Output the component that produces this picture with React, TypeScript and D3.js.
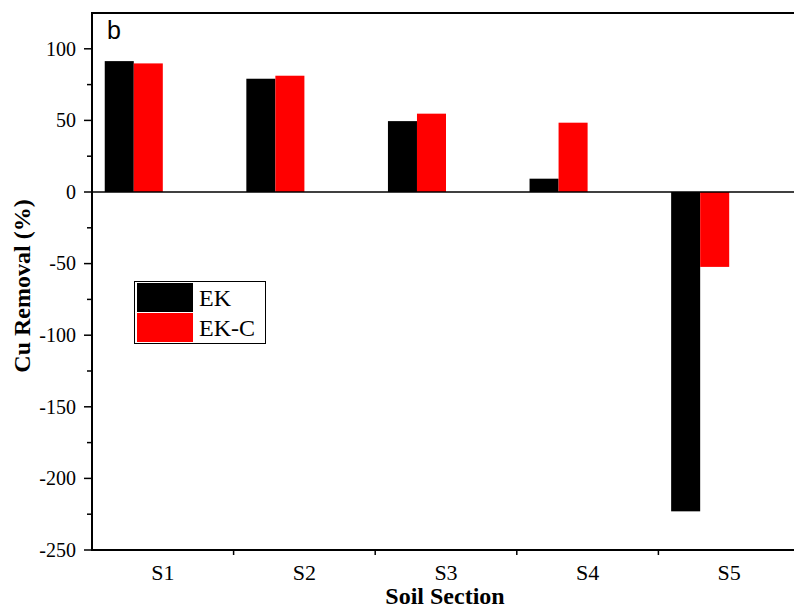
import React from "react";
import * as d3 from "d3";

// Soil sections along the cell
const sections = ["S1", "S2", "S3", "S4", "S5"];
// Series names
const seriesNames = ["EK", "EK-C"];
const seriesColors = ["#000000", "#ff0000"];
// Cu removal (%) per section
const ekValues = [91.4, 79.1, 49.5, 9.3, -223];
const ekcValues = [89.8, 81.2, 54.7, 48.4, -52.3];
const yTicks = [-250, -200, -150, -100, -50, 0, 50, 100];

const W = 794;
const H = 609;
const margin = { left: 92, top: 13, right: -6, bottom: 59 };

export default function App() {
  const x0 = margin.left;
  const x1 = W - margin.right;
  const yTop = margin.top;
  const yBot = H - margin.bottom;

  const x = d3.scaleBand<string>().domain(sections).range([x0, x1]).padding(0);
  const y = d3.scaleLinear().domain([-250, 125]).range([yBot, yTop]);

  // four slots per group (only the first two are used)
  const groupWidth = x.bandwidth() * 0.82;
  const barW = groupWidth / 4;
  const inner = d3
    .scaleBand<string>()
    .domain([...seriesNames, "_a", "_b"])
    .range([-groupWidth / 2, groupWidth / 2])
    .padding(0);

  const minorTicks = d3.range(-225, 125, 50);
  const series = [ekValues, ekcValues];
  const serif = "'Liberation Serif', 'Times New Roman', serif";

  return (
    <svg width={W} height={H} style={{ position: "absolute", left: 0, top: 0 }}>
      <rect x={0} y={0} width={W} height={H} fill="#fff" />
      <defs>
        <clipPath id="plot">
          <rect x={x0} y={yTop} width={x1 - x0} height={yBot - yTop} />
        </clipPath>
      </defs>
      <g clipPath="url(#plot)">
        {series.map((vals, si) =>
          vals.map((v, i) => {
            const cx = (x(sections[i]) as number) + x.bandwidth() / 2;
            const bx = cx + (inner(seriesNames[si]) as number);
            const ya = y(Math.max(0, v));
            const yb = y(Math.min(0, v));
            return (
              <rect
                key={`${si}-${i}`}
                x={bx}
                y={ya}
                width={barW}
                height={yb - ya}
                fill={seriesColors[si]}
              />
            );
          })
        )}
        <line x1={x0} x2={x1} y1={y(0)} y2={y(0)} stroke="#000" strokeWidth={1.5} />
      </g>

      {/* frame */}
      <line x1={x0} x2={x0} y1={yTop} y2={yBot + 1} stroke="#000" strokeWidth={2} />
      <line x1={x0 - 1} x2={W} y1={yBot} y2={yBot} stroke="#000" strokeWidth={2} />
      <line x1={x0 - 1} x2={W} y1={yTop} y2={yTop} stroke="#000" strokeWidth={2} />

      {/* y axis */}
      {yTicks.map((t) => (
        <g key={t}>
          <line x1={x0 - 8} x2={x0} y1={y(t)} y2={y(t)} stroke="#000" strokeWidth={1.5} />
          <text
            x={x0 - 16}
            y={y(t)}
            dy="0.34em"
            textAnchor="end"
            fontFamily={serif}
            fontSize={20}
            fill="#000"
          >
            {t}
          </text>
        </g>
      ))}
      {minorTicks.map((t) => (
        <line key={t} x1={x0 - 5} x2={x0} y1={y(t)} y2={y(t)} stroke="#000" strokeWidth={1.5} />
      ))}

      {/* x axis */}
      {sections.map((s, i) => {
        const bx = x(s) as number;
        return (
          <g key={s}>
            {i > 0 && (
              <line x1={bx} x2={bx} y1={yBot} y2={yBot + 5} stroke="#000" strokeWidth={1.5} />
            )}
            <text
              x={bx + x.bandwidth() / 2}
              y={yBot + 30}
              textAnchor="middle"
              fontFamily={serif}
              fontSize={22}
              fill="#000"
            >
              {s}
            </text>
          </g>
        );
      })}

      {/* axis titles */}
      <text
        x={445}
        y={H - 5}
        textAnchor="middle"
        fontFamily={serif}
        fontWeight="bold"
        fontSize={24}
        fill="#000"
      >
        Soil Section
      </text>
      <text
        transform={`translate(30, 286) rotate(-90)`}
        textAnchor="middle"
        fontFamily={serif}
        fontWeight="bold"
        fontSize={24}
        fill="#000"
      >
        Cu Removal (%)
      </text>

      {/* panel label */}
      <text x={107} y={39} fontFamily="'Liberation Sans', Arial, sans-serif" fontSize={25} fill="#000">
        b
      </text>

      {/* legend */}
      <g>
        <rect x={134.5} y={281.5} width={131} height={62} fill="#fff" stroke="#000" strokeWidth={1} />
        {seriesNames.map((n, i) => (
          <g key={n}>
            <rect x={137} y={283 + i * 30} width={56} height={29} fill={seriesColors[i]} />
            <text
              x={199}
              y={298 + i * 30}
              dy="0.34em"
              fontFamily={serif}
              fontSize={24}
              fill="#000"
            >
              {n}
            </text>
          </g>
        ))}
      </g>
    </svg>
  );
}
